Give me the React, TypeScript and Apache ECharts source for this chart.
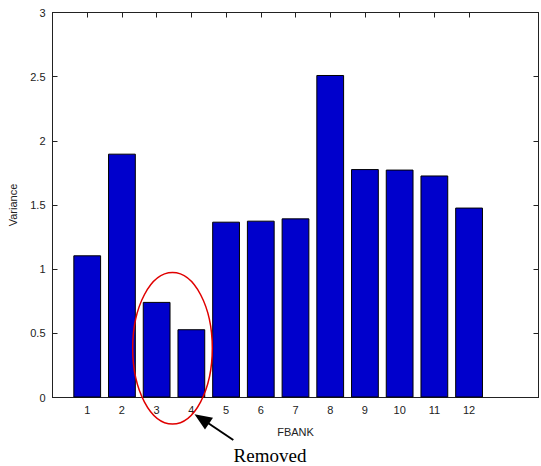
import React, { useEffect, useRef } from "react";
import * as echarts from "echarts";

const categories = [1, 2, 3, 4, 5, 6, 7, 8, 9, 10, 11, 12];
const variance = [1.108, 1.9, 0.745, 0.532, 1.37, 1.378, 1.396, 2.513, 1.78, 1.776, 1.73, 1.48];
const yTicks = [0, 0.5, 1, 1.5, 2, 2.5, 3];

export default function App() {
  const ref = useRef<HTMLDivElement>(null);
  useEffect(() => {
    if (!ref.current) return;
    const chart = echarts.init(ref.current, undefined, { renderer: "svg" });
    const font = "'Liberation Sans', Arial, sans-serif";
    const axisColor = "#222";
    const line = { show: true, onZero: false, lineStyle: { color: axisColor, width: 1 } };
    const tick = { show: true, inside: true, length: 5, lineStyle: { color: axisColor, width: 1 } };
    chart.setOption({
      animation: false,
      backgroundColor: "#ffffff",
      grid: { left: 52.5, right: 2.5, top: 12.5, bottom: 68.5, containLabel: false, outerBoundsMode: "none" },
      xAxis: [
        {
          type: "value",
          min: 0,
          max: 14,
          interval: 1,
          position: "bottom",
          name: "FBANK",
          nameLocation: "middle",
          nameGap: 29,
          nameTextStyle: { fontFamily: font, fontSize: 11, color: "#222" },
          axisLine: line,
          axisTick: { ...tick, customValues: categories },
          axisLabel: { customValues: categories, fontFamily: font, fontSize: 11, color: "#222", margin: 7 },
          splitLine: { show: false },
        },
        {
          type: "value",
          min: 0,
          max: 14,
          interval: 1,
          position: "top",
          axisLine: line,
          axisTick: { ...tick, customValues: categories },
          axisLabel: { show: false },
          splitLine: { show: false },
        },
      ],
      yAxis: [
        {
          type: "value",
          min: 0,
          max: 3,
          interval: 0.5,
          position: "left",
          name: "Variance",
          nameLocation: "middle",
          nameGap: 34,
          nameRotate: 90,
          nameTextStyle: { fontFamily: font, fontSize: 11, color: "#222" },
          axisLine: line,
          axisTick: { ...tick, customValues: yTicks },
          axisLabel: { customValues: yTicks, fontFamily: font, fontSize: 11, color: "#222", margin: 7 },
          splitLine: { show: false },
        },
        {
          type: "value",
          min: 0,
          max: 3,
          interval: 0.5,
          position: "right",
          axisLine: line,
          axisTick: { ...tick, customValues: yTicks },
          axisLabel: { show: false },
          splitLine: { show: false },
        },
      ],
      series: [
        {
          type: "bar",
          xAxisIndex: 0,
          yAxisIndex: 0,
          barWidth: "80%",
          data: categories.map((c, i) => [c, variance[i]]),
          itemStyle: { color: "#0000CC", borderColor: "#000000", borderWidth: 1 },
        },
      ],
      graphic: [
        {
          type: "ellipse",
          shape: { cx: 172.5, cy: 348.3, rx: 39.8, ry: 75.7 },
          style: { fill: "none", stroke: "#E00000", lineWidth: 1.5 },
          z: 100,
        },
        {
          type: "line",
          shape: { x1: 233.3, y1: 440, x2: 208, y2: 423 },
          style: { stroke: "#000", lineWidth: 2 },
          z: 100,
        },
        {
          type: "polygon",
          shape: { points: [[194.5, 414.3], [213, 417.8], [205, 429.4]] },
          style: { fill: "#000" },
          z: 100,
        },
        {
          type: "text",
          x: 270,
          y: 455,
          style: {
            text: "Removed",
            font: "19px 'Liberation Serif', 'Times New Roman', serif",
            fill: "#000",
            align: "center",
            verticalAlign: "middle",
          },
          z: 100,
        },
      ],
    });
    return () => chart.dispose();
  }, []);
  return (
    <div
      ref={ref}
      style={{ position: "fixed", left: 0, top: 0, width: 541, height: 466, background: "#fff" }}
    />
  );
}
